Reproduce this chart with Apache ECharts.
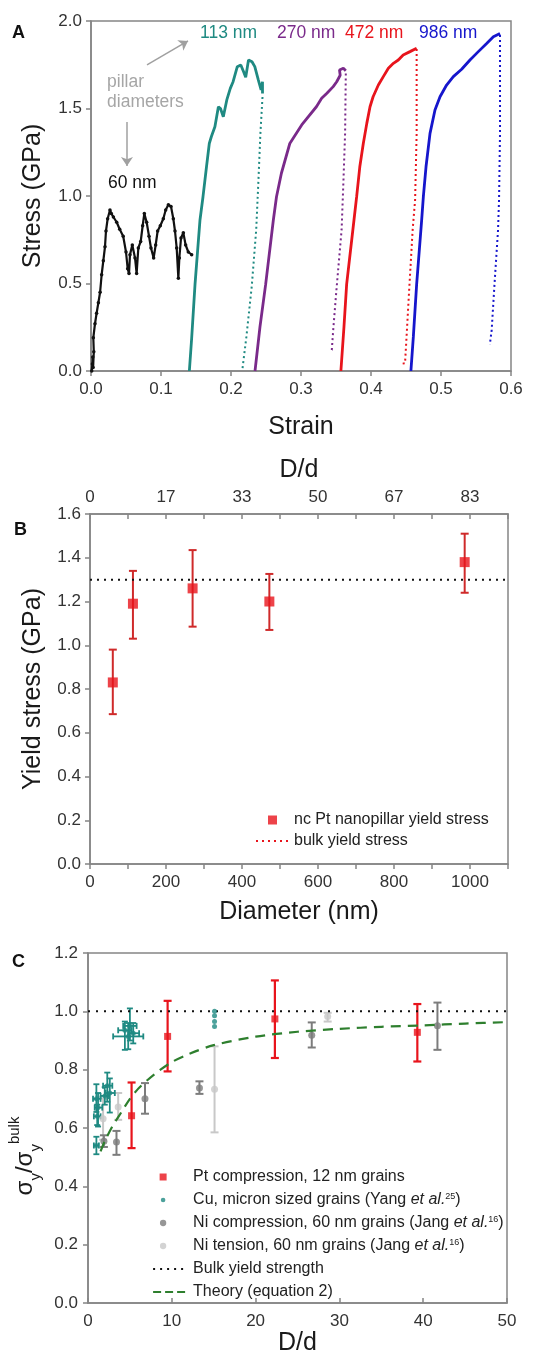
<!DOCTYPE html>
<html><head><meta charset="utf-8">
<script src="https://cdn.jsdelivr.net/npm/echarts@6/dist/echarts.min.js"></script>
<style>html,body{margin:0;padding:0;background:#fff}#c{width:546px;height:1368px}</style>
</head><body><div id="c"></div>
<script>
// ================= Panel A: stress-strain curves =================
const curve60 = [[0.001,0.0],[0.002,0.04],[0.0025,0.08],[0.003,0.02],[0.004,0.11],[0.0033,0.19],[0.0057,0.27],[0.008,0.33],[0.0105,0.39],[0.013,0.45],[0.0152,0.55],[0.0176,0.63],[0.02,0.71],[0.0214,0.80],[0.0238,0.87],[0.0271,0.92],[0.029,0.90],[0.032,0.88],[0.0367,0.85],[0.041,0.81],[0.046,0.77],[0.05,0.68],[0.0524,0.585],[0.0543,0.557],[0.0557,0.665],[0.059,0.72],[0.0629,0.646],[0.0652,0.557],[0.0676,0.703],[0.071,0.74],[0.0738,0.83],[0.0762,0.90],[0.0795,0.85],[0.0829,0.77],[0.0857,0.703],[0.0895,0.646],[0.0924,0.72],[0.0952,0.80],[0.099,0.83],[0.1033,0.87],[0.1067,0.92],[0.1105,0.95],[0.1143,0.94],[0.1176,0.87],[0.12,0.80],[0.1224,0.703],[0.1248,0.53],[0.1262,0.646],[0.1286,0.76],[0.1319,0.79],[0.1352,0.72],[0.139,0.68],[0.1438,0.665]];
const curve113Load = [[0.1405,0],[0.1438,0.187],[0.1486,0.495],[0.1557,0.863],[0.160,0.996],[0.165,1.167],[0.169,1.30],[0.172,1.34],[0.177,1.396],[0.182,1.51],[0.185,1.50],[0.189,1.453],[0.194,1.549],[0.199,1.615],[0.203,1.653],[0.209,1.739],[0.214,1.749],[0.218,1.71],[0.221,1.678],[0.225,1.777],[0.23,1.767],[0.234,1.739],[0.239,1.663],[0.243,1.606],[0.245,1.653],[0.245,1.586]];
const curve113Unload = [[0.245,1.566],[0.242,1.358],[0.239,1.072],[0.236,0.806],[0.2296,0.482],[0.222,0.196],[0.216,0.0]];
const curve270Load = [[0.2343,0],[0.2414,0.253],[0.2495,0.495],[0.2605,0.863],[0.265,0.996],[0.272,1.13],[0.284,1.30],[0.301,1.406],[0.322,1.51],[0.3295,1.558],[0.337,1.587],[0.346,1.625],[0.351,1.653],[0.356,1.69],[0.355,1.72],[0.3605,1.73],[0.364,1.716]];
const curve270Unload = [[0.364,1.70],[0.363,1.358],[0.3605,1.072],[0.358,0.806],[0.351,0.482],[0.346,0.234],[0.344,0.12],[0.341,0.11]];
const curve472Load = [[0.357,0],[0.3614,0.253],[0.3652,0.495],[0.3757,0.863],[0.3795,0.996],[0.384,1.167],[0.389,1.30],[0.394,1.415],[0.3986,1.51],[0.403,1.567],[0.4105,1.634],[0.4176,1.682],[0.4248,1.73],[0.432,1.758],[0.439,1.777],[0.446,1.806],[0.4557,1.825],[0.4652,1.844]];
const curve472Unload = [[0.4652,1.84],[0.4652,1.358],[0.463,0.977],[0.4595,0.806],[0.4548,0.482],[0.45,0.139],[0.4486,0.044],[0.4414,0.04]];
const curve986Load = [[0.457,0],[0.4605,0.196],[0.4652,0.495],[0.4724,0.863],[0.4748,0.996],[0.4786,1.167],[0.4843,1.358],[0.4914,1.491],[0.4986,1.567],[0.508,1.634],[0.5176,1.682],[0.5295,1.724],[0.5414,1.777],[0.5533,1.825],[0.5652,1.872],[0.5748,1.91],[0.5843,1.929]];
const curve986Unload = [[0.5843,1.92],[0.5843,1.358],[0.5829,0.977],[0.5815,0.806],[0.5762,0.482],[0.5724,0.234],[0.57,0.158],[0.5695,0.15]];

// ================= Panel B: yield stress vs diameter =================
const diameterNm = [60, 113, 270, 472, 986];
const yieldStressGPa = [0.83, 1.19, 1.26, 1.20, 1.38];
const yieldErrLow = [0.685, 1.03, 1.085, 1.07, 1.24];
const yieldErrHigh = [0.98, 1.34, 1.435, 1.326, 1.51];
const bulkYieldGPa = 1.3;
const dOverDTickLabels = ['0', '17', '33', '50', '67', '83'];

// ================= Panel C: normalized yield strength vs D/d =================
const ptX = [5.2, 9.5, 22.3, 39.3];
const ptY = [0.642, 0.914, 0.974, 0.928];
const ptLo = [0.531, 0.794, 0.84, 0.828];
const ptHi = [0.756, 1.036, 1.106, 1.025];

const cuX = [4.8, 5.0, 4.4, 5.4, 1.0, 1.2, 1.1, 2.3, 2.6, 2.0, 1.0];
const cuY = [0.914, 0.95, 0.935, 0.925, 0.70, 0.67, 0.64, 0.745, 0.72, 0.71, 0.54];
const cuXLo = [3.0, 4.2, 3.6, 4.8, 0.6, 0.8, 0.7, 1.8, 2.1, 1.5, 0.7];
const cuXHi = [6.6, 5.8, 5.2, 6.1, 1.5, 1.7, 1.5, 2.9, 3.2, 2.5, 1.3];
const cuYLo = [0.87, 0.9, 0.868, 0.89, 0.655, 0.605, 0.61, 0.69, 0.653, 0.68, 0.51];
const cuYHi = [0.96, 1.01, 0.965, 0.96, 0.75, 0.72, 0.68, 0.79, 0.77, 0.74, 0.57];
const cuStackX = [15.1, 15.1, 15.1, 15.1];
const cuStackY = [1.0, 0.985, 0.965, 0.948];

const niCX = [1.9, 3.4, 6.8, 13.3, 26.7, 41.7];
const niCY = [0.555, 0.552, 0.70, 0.737, 0.918, 0.951];
const niCLo = [0.535, 0.508, 0.649, 0.717, 0.876, 0.868];
const niCHi = [0.575, 0.59, 0.754, 0.76, 0.962, 1.03];

const niTX = [1.8, 3.6, 15.1, 28.6];
const niTY = [0.632, 0.672, 0.733, 0.982];
const niTLo = [0.56, 0.628, 0.585, 0.965];
const niTHi = [0.70, 0.72, 0.88, 0.995];

const theoryX = [1.5, 2, 3, 4, 5, 6, 7, 8, 10, 12, 15, 20, 25, 30, 35, 40, 45, 50];
const theoryY = [0.52, 0.555, 0.61, 0.655, 0.70, 0.735, 0.762, 0.786, 0.826, 0.853, 0.884, 0.913, 0.93, 0.94, 0.947, 0.952, 0.958, 0.963];
const bulkNormalized = 1.0;

// ================= styling =================
const FF = '"Liberation Sans", Arial, Helvetica, sans-serif';
const AX = '#858585';
const TXT = '#333';
const NAME = '#1a1a1a';
const C_TEAL = '#1f8a82', C_PURPLE = '#7a2a8a', C_RED = '#e8141c', C_BLUE = '#1616cc';
const C_DGREY = '#7c7c7c', C_LGREY = '#c8c8c8', C_GREEN = '#2e7f2e';
const NO_SYMBOL = { color: 'rgba(0,0,0,0)', borderWidth: 0, opacity: 0 };

function axis(o) {
  return {
    type: 'value', gridIndex: o.grid, position: o.position, min: o.min, max: o.max, interval: o.interval,
    name: o.name, nameLocation: 'middle', nameGap: o.nameGap, nameRotate: o.nameRotate,
    nameTextStyle: Object.assign({ fontSize: 25, fontFamily: FF, color: NAME }, o.nameStyle || {}),
    splitLine: { show: false },
    axisLine: { show: true, onZero: false, lineStyle: { color: AX, width: 1.5 } },
    axisTick: { show: true, inside: !!o.tickInside, length: 5, lineStyle: { color: AX, width: 1.5 } },
    axisLabel: { show: o.labels !== false, color: TXT, fontSize: 17, fontFamily: FF, margin: o.margin || 9, formatter: o.fmt, showMaxLabel: o.showMax !== false, showMinLabel: true, hideOverlap: false }
  };
}
const f1 = v => v.toFixed(1);

function line(name, data, color, width, type, xi, yi, extra) {
  return Object.assign({ type: 'line', name, data, xAxisIndex: xi, yAxisIndex: yi, symbol: 'none', silent: true,
    lineStyle: { color, width, type }, itemStyle: { color }, z: 3 }, extra || {});
}

function errSeries(name, xi, yi, rows, color, lw, cap, withX) {
  return {
    type: 'custom', name, xAxisIndex: xi, yAxisIndex: yi, silent: true, z: 2, data: rows,
    encode: { x: 0, y: [1, 2, 3] },
    renderItem(params, api) {
      const x = api.value(0), y = api.value(1);
      const a = api.coord([x, api.value(2)]), b = api.coord([x, api.value(3)]);
      const st = { stroke: color, lineWidth: lw };
      const h = cap / 2;
      const ch = [
        { type: 'line', shape: { x1: a[0], y1: a[1], x2: b[0], y2: b[1] }, style: st },
        { type: 'line', shape: { x1: a[0] - h, y1: a[1], x2: a[0] + h, y2: a[1] }, style: st },
        { type: 'line', shape: { x1: b[0] - h, y1: b[1], x2: b[0] + h, y2: b[1] }, style: st }
      ];
      if (withX) {
        const l = api.coord([api.value(4), y]), r = api.coord([api.value(5), y]);
        ch.push({ type: 'line', shape: { x1: l[0], y1: l[1], x2: r[0], y2: r[1] }, style: st });
        ch.push({ type: 'line', shape: { x1: l[0], y1: l[1] - h, x2: l[0], y2: l[1] + h }, style: st });
        ch.push({ type: 'line', shape: { x1: r[0], y1: r[1] - h, x2: r[0], y2: r[1] + h }, style: st });
      }
      return { type: 'group', children: ch };
    }
  };
}
const zip = (...arrs) => arrs[0].map((_, i) => arrs.map(a => a[i]));

const N_PT = 'Pt compression, 12 nm grains';
const N_CU = 'Cu, micron sized grains (Yang et al.25)';
const N_NIC = 'Ni compression, 60 nm grains (Jang et al.16)';
const N_NIT = 'Ni tension, 60 nm grains (Jang et al.16)';
const N_BULK = 'Bulk yield strength';
const N_TH = 'Theory (equation 2)';
const legendLabelsC = {};
legendLabelsC[N_CU] = 'Cu, micron sized grains (Yang {i|et al.}{s|25})';
legendLabelsC[N_NIC] = 'Ni compression, 60 nm grains (Jang {i|et al.}{s|16})';
legendLabelsC[N_NIT] = 'Ni tension, 60 nm grains (Jang {i|et al.}{s|16})';

const sq = 'path://M0,0M0.93,0h1v1h-1zM5,1';
const circ = r => `path://M0,0M${1.43 - r},0.5a${r},${r} 0 1,0 ${2 * r},0a${r},${r} 0 1,0 ${-2 * r},0M5,1`;

const option = {
  animation: false,
  backgroundColor: '#fff',
  grid: [
    { left: 91, top: 21, width: 420, height: 350, show: true, borderColor: AX, borderWidth: 1.5, backgroundColor: 'transparent', outerBoundsMode: 'none', containLabel: false },
    { left: 90, top: 514, width: 418, height: 350, show: true, borderColor: AX, borderWidth: 1.5, backgroundColor: 'transparent', outerBoundsMode: 'none', containLabel: false },
    { left: 88, top: 953, width: 419, height: 350, show: true, borderColor: AX, borderWidth: 1.5, backgroundColor: 'transparent', outerBoundsMode: 'none', containLabel: false }
  ],
  xAxis: [
    axis({ grid: 0, position: 'bottom', min: 0, max: 0.6, interval: 0.1, name: 'Strain', nameGap: 44, fmt: f1, margin: 10 }),
    axis({ grid: 1, position: 'bottom', min: 0, max: 1100, interval: 100, name: 'Diameter (nm)', nameGap: 36, margin: 10,
      fmt: v => { const r = Math.round(v); return (r % 200 === 0 && r <= 1000) ? String(r) : ''; } }),
    axis({ grid: 1, position: 'top', min: 0, max: 1100, interval: 100, name: 'D/d', nameGap: 31, tickInside: true, margin: 8,
      fmt: v => { const r = Math.round(v); return (r % 200 === 0 && r <= 1000) ? dOverDTickLabels[r / 200] : ''; } }),
    axis({ grid: 2, position: 'bottom', min: 0, max: 50, interval: 10, name: 'D/d', nameGap: 22, tickInside: true, margin: 10,
      fmt: v => String(Math.round(v)) })
  ],
  yAxis: [
    axis({ grid: 0, position: 'left', min: 0, max: 2, interval: 0.5, name: 'Stress (GPa)', nameGap: 45, fmt: f1 }),
    axis({ grid: 1, position: 'left', min: 0, max: 1.6, interval: 0.2, name: 'Yield stress (GPa)', nameGap: 44, fmt: f1 }),
    axis({ grid: 2, position: 'left', min: 0, max: 1.2, interval: 0.2, fmt: f1, margin: 10,
      name: '{a|σ}{b|y}{a|/σ}{b|y}{c|bulk}', nameGap: 44,
      nameStyle: { padding: [0, 56, 0, 0], rich: {
        a: { fontSize: 24, fontFamily: FF, color: NAME, lineHeight: 36 },
        b: { fontSize: 15, fontFamily: FF, color: NAME, verticalAlign: 'bottom' },
        c: { fontSize: 15, fontFamily: FF, color: NAME, verticalAlign: 'top' } } } })
  ],
  legend: [
    { show: true, orient: 'vertical', left: 250, top: 807, itemWidth: 33, itemHeight: 9, itemGap: 5, selectedMode: false,
      textStyle: { fontSize: 16, fontFamily: FF, color: '#222' },
      data: [{ name: 'nc Pt nanopillar yield stress', icon: 'path://M0,0h10v10h-10z' },
             { name: 'bulk yield stress', itemStyle: NO_SYMBOL, lineStyle: { color: C_RED, width: 2, type: [2, 4] } }] },
    { show: true, orient: 'vertical', left: 147, top: 1164, itemWidth: 35, itemHeight: 7, itemGap: 7, selectedMode: false,
      textStyle: { fontSize: 16, fontFamily: FF, color: '#222',
        rich: { i: { fontSize: 16, fontStyle: 'italic', fontFamily: FF, color: '#222' },
                s: { fontSize: 9, fontFamily: FF, color: '#222', verticalAlign: 'top' } } },
      formatter: n => legendLabelsC[n] || n,
      data: [{ name: N_PT, icon: sq }, { name: N_CU, icon: circ(0.33) }, { name: N_NIC, icon: circ(0.45) },
             { name: N_NIT, icon: circ(0.45) },
             { name: N_BULK, itemStyle: NO_SYMBOL, lineStyle: { color: '#111', width: 2, type: [2, 5] } },
             { name: N_TH, itemStyle: NO_SYMBOL, lineStyle: { color: C_GREEN, width: 2.2, type: [8, 4] } }] }
  ],
  series: [
    // ---- A ----
    line('60 nm', curve60, '#111', 2.2, 'solid', 0, 0, {
      symbol: 'circle', symbolSize: 3.5, showSymbol: true, itemStyle: { color: '#111' },
      markLine: { silent: true, symbol: ['none', 'arrow'], symbolSize: 9, label: { show: false },
        lineStyle: { color: '#a0a0a0', width: 1.5, type: 'solid' },
        data: [[{ coord: [0.08, 1.749] }, { coord: [0.1386, 1.886] }],
               [{ coord: [0.0514, 1.423] }, { coord: [0.0514, 1.171] }]] } }),
    line('113 nm', curve113Load, C_TEAL, 2.8, 'solid', 0, 0),
    line('113 nm unload', curve113Unload, C_TEAL, 2, [2, 3], 0, 0),
    line('270 nm', curve270Load, C_PURPLE, 2.8, 'solid', 0, 0),
    line('270 nm unload', curve270Unload, C_PURPLE, 2, [2, 3], 0, 0),
    line('472 nm', curve472Load, C_RED, 2.8, 'solid', 0, 0),
    line('472 nm unload', curve472Unload, C_RED, 2, [2, 3], 0, 0),
    line('986 nm', curve986Load, C_BLUE, 2.8, 'solid', 0, 0),
    line('986 nm unload', curve986Unload, C_BLUE, 2, [2, 3], 0, 0),
    // ---- B ----
    line('bulk yield stress', [[0, bulkYieldGPa], [1100, bulkYieldGPa]], '#111', 2, [2, 5], 1, 1),
    errSeries('B err', 1, 1, zip(diameterNm, yieldStressGPa, yieldErrLow, yieldErrHigh), '#cf2a2a', 2, 8, false),
    { type: 'scatter', name: 'nc Pt nanopillar yield stress', xAxisIndex: 1, yAxisIndex: 1, symbol: 'rect', symbolSize: 10,
      itemStyle: { color: C_RED }, z: 4, silent: true, data: zip(diameterNm, yieldStressGPa) },
    // ---- C ----
    line(N_BULK, [[0, bulkNormalized], [50, bulkNormalized]], '#111', 2, [2, 6], 3, 2),
    line(N_TH, zip(theoryX, theoryY), C_GREEN, 2.2, [10, 7], 3, 2, { smooth: 0.3, z: 5 }),
    errSeries('NiT err', 3, 2, zip(niTX, niTY, niTLo, niTHi), C_LGREY, 2, 8, false),
    errSeries('NiC err', 3, 2, zip(niCX, niCY, niCLo, niCHi), C_DGREY, 2, 8, false),
    errSeries('Cu err', 3, 2, zip(cuX, cuY, cuYLo, cuYHi, cuXLo, cuXHi), C_TEAL, 1.8, 6, true),
    errSeries('Pt err', 3, 2, zip(ptX, ptY, ptLo, ptHi), C_RED, 2.2, 8, false),
    { type: 'scatter', name: N_NIT, xAxisIndex: 3, yAxisIndex: 2, symbol: 'circle', symbolSize: 7, itemStyle: { color: C_LGREY }, z: 4, silent: true, data: zip(niTX, niTY) },
    { type: 'scatter', name: N_NIC, xAxisIndex: 3, yAxisIndex: 2, symbol: 'circle', symbolSize: 7, itemStyle: { color: C_DGREY }, z: 4, silent: true, data: zip(niCX, niCY) },
    { type: 'scatter', name: N_CU, xAxisIndex: 3, yAxisIndex: 2, symbol: 'circle', symbolSize: 5, itemStyle: { color: C_TEAL }, z: 4, silent: true,
      data: zip(cuX, cuY).concat(zip(cuStackX, cuStackY)) },
    { type: 'scatter', name: N_PT, xAxisIndex: 3, yAxisIndex: 2, symbol: 'rect', symbolSize: 7, itemStyle: { color: C_RED }, z: 4, silent: true, data: zip(ptX, ptY) }
  ]
};

const chart = echarts.init(document.getElementById('c'), null, { renderer: 'canvas' });
chart.setOption(option);

// ---- annotations in panel A (placed in data coordinates) ----
const annotA = [
  { text: '113 nm', at: [0.1557, 1.931], color: C_TEAL },
  { text: '270 nm', at: [0.2657, 1.931], color: C_PURPLE },
  { text: '472 nm', at: [0.3629, 1.931], color: C_RED },
  { text: '986 nm', at: [0.4686, 1.931], color: C_BLUE },
  { text: 'pillar', at: [0.0229, 1.651], color: '#a6a6a6' },
  { text: 'diameters', at: [0.0229, 1.537], color: '#a6a6a6' },
  { text: '60 nm', at: [0.0243, 1.074], color: '#111' }
];
const graphics = annotA.map(a => {
  const p = chart.convertToPixel({ gridIndex: 0 }, a.at);
  return { type: 'text', x: p[0], y: p[1], silent: true, z: 10,
    style: { text: a.text, fill: a.color, fontSize: 17.5, fontFamily: FF, verticalAlign: 'middle', align: 'left' } };
});
[['A', 12, 33], ['B', 14, 530], ['C', 12, 962]].forEach(([t, x, y]) => graphics.push({
  type: 'text', x, y, silent: true, z: 10,
  style: { text: t, fill: '#111', fontSize: 18, fontWeight: 'bold', fontFamily: FF, verticalAlign: 'middle', align: 'left' } }));
chart.setOption({ graphic: graphics });
</script>
</body></html>
